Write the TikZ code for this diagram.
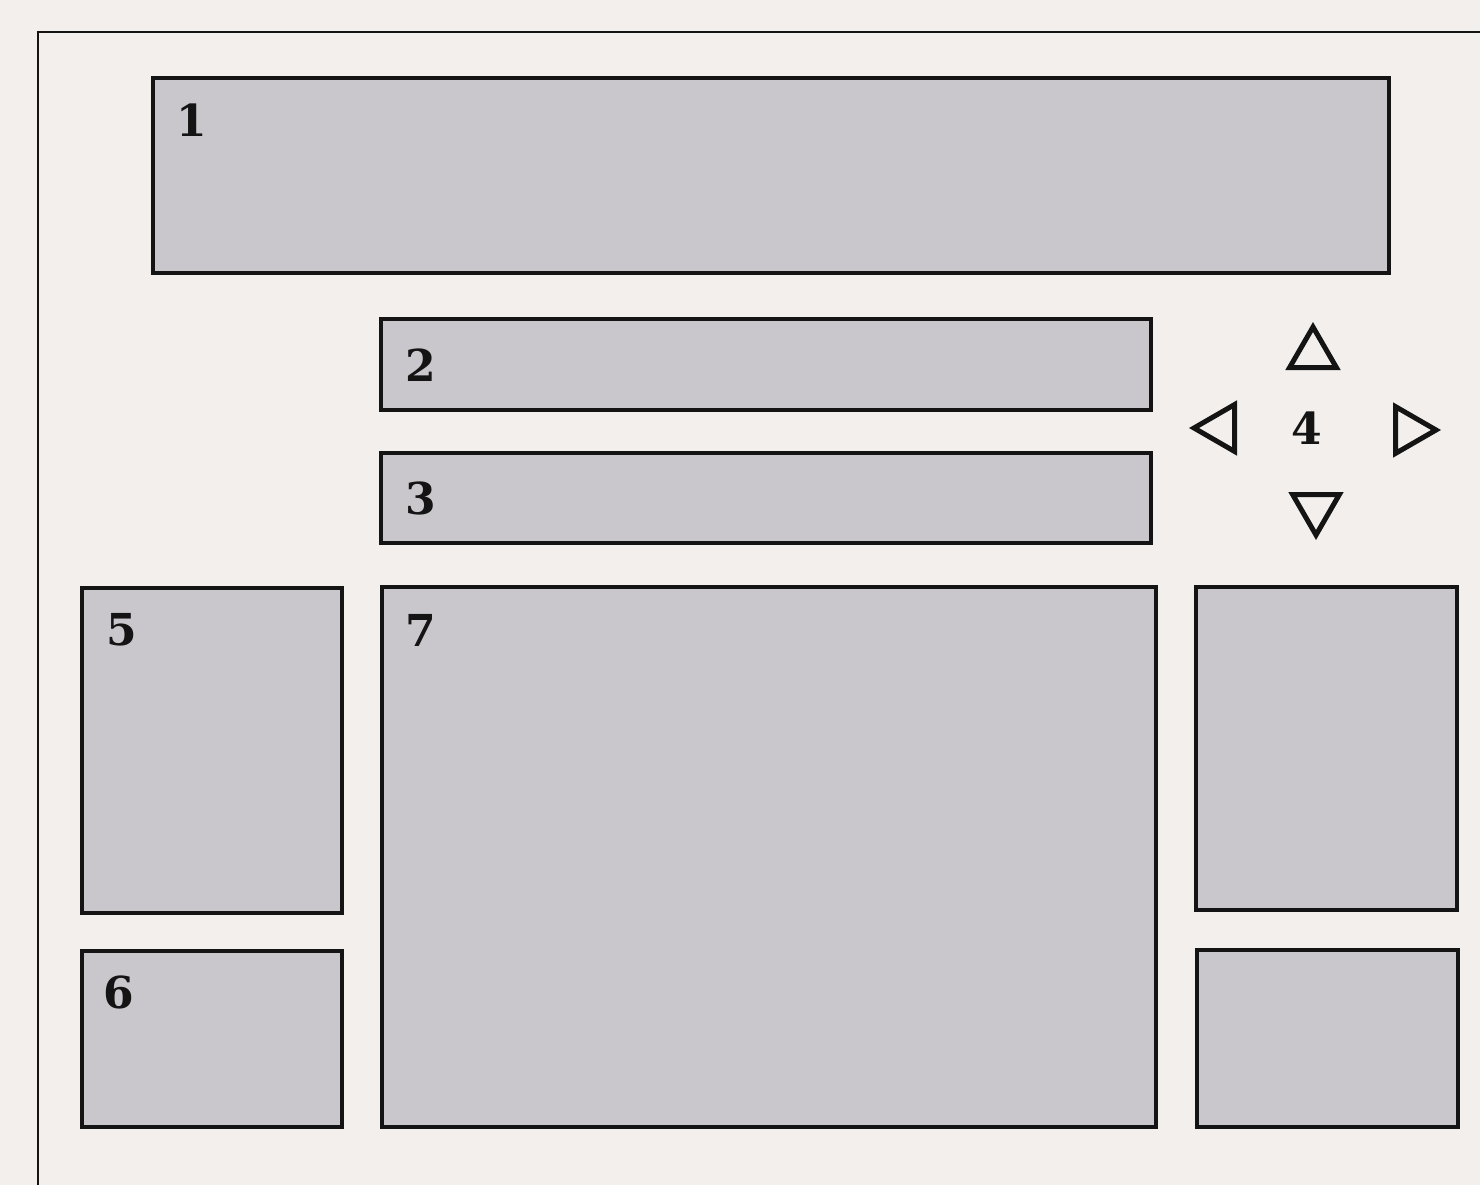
\documentclass[tikz,border=0pt]{standalone}
\usepackage{fontspec}
\newfontfamily\labelfont{DejaVu Serif}
\usetikzlibrary{shapes.geometric}
\definecolor{paper}{HTML}{F3EFEC}
\definecolor{panel}{HTML}{C9C7CB}
\definecolor{ink}{HTML}{141414}
\tikzset{
  panelbox/.style={draw=ink, fill=panel, line width=4.5pt, inner sep=0pt, outer sep=0pt, anchor=north west},
  numlabel/.style={text=ink, font=\labelfont\bfseries\fontsize{44}{50}\selectfont, inner sep=0pt},
  tri/.style={draw=ink, regular polygon, regular polygon sides=3, line width=5pt,
              minimum size=54pt, inner sep=0pt, line join=miter},
  frame/.style={draw=ink, line width=2.5pt}
}
\begin{document}
\begin{tikzpicture}[x=1pt,y=-1pt]
\useasboundingbox (0,0) rectangle (1480,1185);
\fill[paper] (0,0) rectangle (1480,1185);
% outer frame (open to right and bottom)
\coordinate (fbl) at (38,1185);
\coordinate (ftl) at (38,32);
\coordinate (ftr) at (1480,32);
\draw[frame] (fbl) -- (ftl) -- (ftr);
% panels
\node[panelbox, minimum width=1236pt, minimum height=195pt] (p1) at (153,78) {};
\node[panelbox, minimum width=770pt, minimum height=91pt] (p2) at (381,319) {};
\node[panelbox, minimum width=770pt, minimum height=90pt] (p3) at (381,453) {};
\node[panelbox, minimum width=260pt, minimum height=325pt] (p5) at (82,588) {};
\node[panelbox, minimum width=260pt, minimum height=176pt] (p6) at (82,951) {};
\node[panelbox, minimum width=774pt, minimum height=540pt] (p7) at (382,587) {};
\node[panelbox, minimum width=261pt, minimum height=323pt] (pr1) at (1196,587) {};
\node[panelbox, minimum width=261pt, minimum height=177pt] (pr2) at (1197,950) {};
% labels
\node[numlabel] (l1) at (192,120) {1};
\node[numlabel] (l2) at (421,365) {2};
\node[numlabel] (l3) at (421,498) {3};
\node[numlabel] (l5) at (122,630) {5};
\node[numlabel] (l6) at (119,992) {6};
\node[numlabel] (l7) at (421,630) {7};
\node[numlabel] (l4) at (1307,428) {4};
% direction triangles
\node[tri] (tup) at (1313,354) {};
\node[tri, shape border rotate=180] (tdown) at (1316,508) {};
\node[tri, shape border rotate=90] (tleft) at (1221,428) {};
\node[tri, shape border rotate=-90] (tright) at (1409,430) {};
\end{tikzpicture}
\end{document}
